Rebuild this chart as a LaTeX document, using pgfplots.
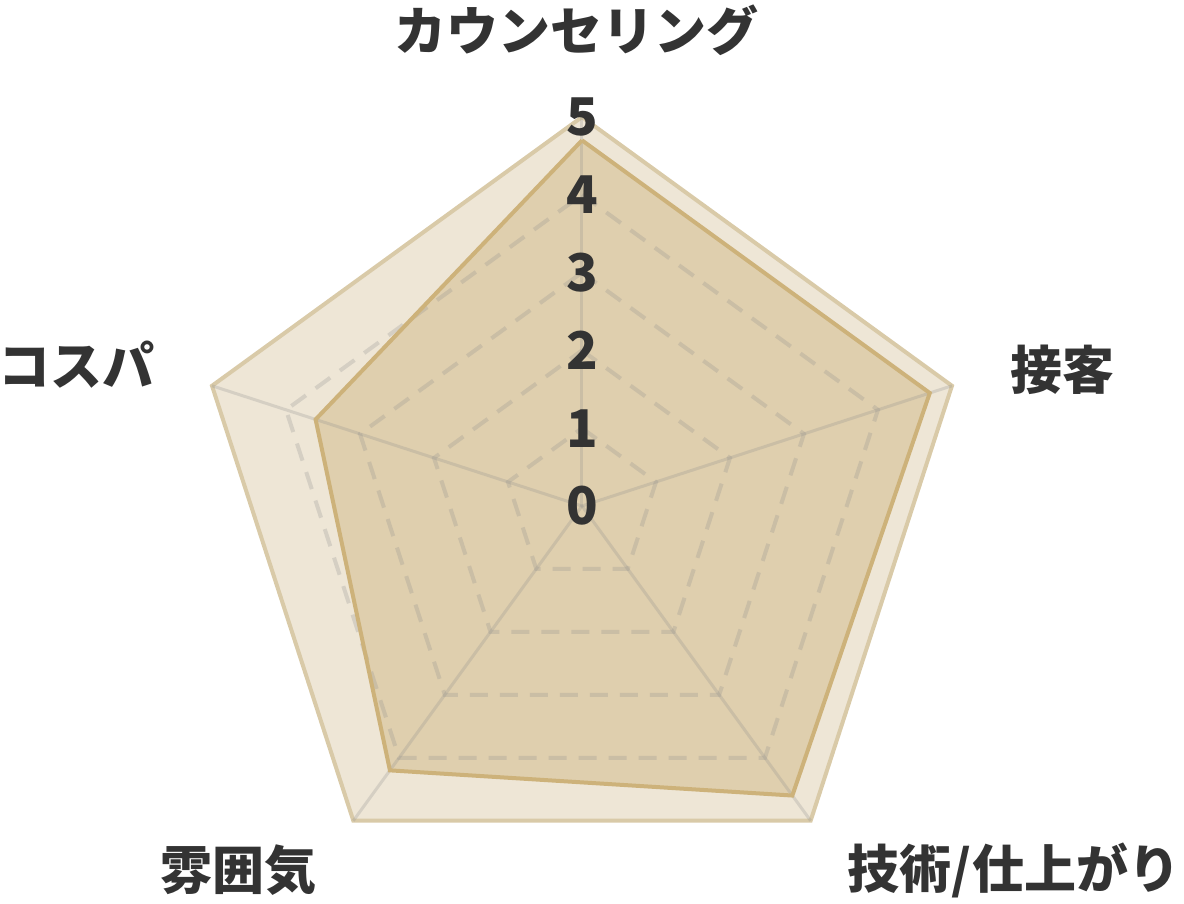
\documentclass[border=0pt]{standalone}
\usepackage{fontspec}
\setmainfont{Noto Sans CJK JP}
\usepackage{pgfplots}
\pgfplotsset{compat=1.18}
\usepgfplotslibrary{polar}

\definecolor{outerfill}{HTML}{EEE6D6}
\definecolor{outerline}{HTML}{D9CAA8}
\definecolor{innerfill}{HTML}{DFCFAE}
\definecolor{innerline}{HTML}{CDB27A}
\definecolor{txt}{HTML}{333333}

\tikzset{
  gridline/.style={draw=black!45, draw opacity=0.25, line width=2pt, dash pattern=on 9pt off 6pt},
  spoke/.style={draw=black!45, draw opacity=0.25, line width=1.5pt},
  scalelabel/.style={text=txt, font=\fontsize{26}{30}\selectfont\bfseries},
  catlabel/.style={text=txt, font=\fontsize{26}{30}\selectfont\bfseries},
}

\begin{document}
\begin{tikzpicture}[x=1pt,y=1pt]
\useasboundingbox (-291,-199) rectangle (301,253);
\begin{polaraxis}[
  at={(0,0)}, anchor=center,
  width=389pt, height=389pt, scale only axis,
  ymin=0, ymax=5,
  xtick=\empty, ytick=\empty,
  hide axis,
  clip=false,
]
% full score area
\addplot[draw=outerline, fill=outerfill, line width=2pt, line join=miter] coordinates {
  (90,5) (18,5) (-54,5) (-126,5) (162,5) (90,5)
};
% ratings (fill)
\addplot[draw=none, fill=innerfill] coordinates {
  (90,4.7) (18,4.7) (-54,4.6) (-126,4.2) (162,3.6) (90,4.7)
};
% grid
\addplot[gridline] coordinates {(90,1) (18,1) (-54,1) (-126,1) (162,1) (90,1)};
\addplot[gridline] coordinates {(90,2) (18,2) (-54,2) (-126,2) (162,2) (90,2)};
\addplot[gridline] coordinates {(90,3) (18,3) (-54,3) (-126,3) (162,3) (90,3)};
\addplot[gridline] coordinates {(90,4) (18,4) (-54,4) (-126,4) (162,4) (90,4)};
\addplot[spoke] coordinates {(90,0) (90,5)};
\addplot[spoke] coordinates {(18,0) (18,5)};
\addplot[spoke] coordinates {(-54,0) (-54,5)};
\addplot[spoke] coordinates {(-126,0) (-126,5)};
\addplot[spoke] coordinates {(162,0) (162,5)};
% ratings (outline)
\addplot[draw=innerline, line width=2pt, line join=miter] coordinates {
  (90,4.7) (18,4.7) (-54,4.6) (-126,4.2) (162,3.6) (90,4.7)
};
% scale labels
\node[scalelabel] at (axis cs:90,0) {0};
\node[scalelabel] at (axis cs:90,1) {1};
\node[scalelabel] at (axis cs:90,2) {2};
\node[scalelabel] at (axis cs:90,3) {3};
\node[scalelabel] at (axis cs:90,4) {4};
\node[scalelabel] at (axis cs:90,5) {5};
\end{polaraxis}
\node[catlabel] at (-2.5,238) {カウンセリング};
\node[catlabel] at (240,68) {接客};
\node[catlabel] at (216,-182) {技術/仕上がり};
\node[catlabel] at (-171.5,-182) {雰囲気};
\node[catlabel] at (-252.5,70.5) {コスパ};
\end{tikzpicture}
\end{document}
